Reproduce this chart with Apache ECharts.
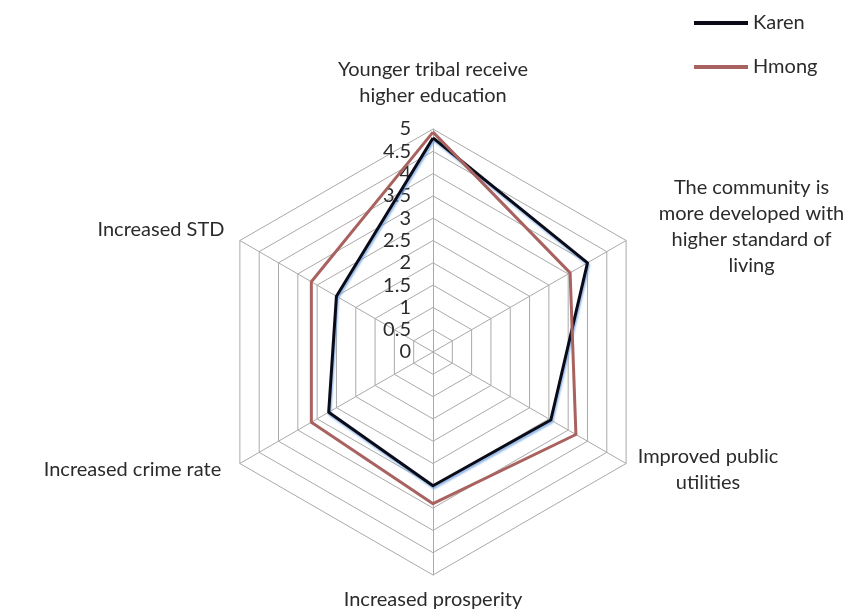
<!DOCTYPE html>
<html>
<head>
<meta charset="utf-8">
<script src="https://cdn.jsdelivr.net/npm/echarts@6/dist/echarts.min.js"></script>
<style>
html,body{margin:0;padding:0;background:#fff;}
#chart{width:858px;height:615px;}
</style>
</head>
<body>
<div id="chart"></div>
<script>
// Categories in clockwise order starting from the top
var categories = [
  'Younger tribal receive\nhigher education',
  'The community is\nmore developed with\nhigher standard of\nliving',
  'Improved public\nutilities',
  'Increased prosperity',
  'Increased crime rate',
  'Increased STD'
];
var seriesNames = ['Karen', 'Hmong'];
var karenValues = [4.8, 4.0, 3.05, 3.0, 2.7, 2.5];
var hmongValues = [4.93, 3.55, 3.7, 3.4, 3.15, 3.15];
var axisMin = 0, axisMax = 5, axisStep = 0.5;

var FONT = 'Lato';
var NAME_SIZE = 20;
var NAME_COLOR = '#2b2b2b';

// per-label nudges (left pad, right pad, trailing spacer height), clockwise order like categories
var namePad = [
  [0, 0, 8],
  [21, 0, 16],
  [0, 0, 0],
  [0, 0, 0],
  [0, 7, 0],
  [0, 4, 10]
];

// ECharts lays radar axes out counter-clockwise; reorder so the result reads clockwise
var order = categories.map(function (c, i) { return i === 0 ? 0 : categories.length - i; });
function reorder(arr) { return order.map(function (k) { return arr[k]; }); }

var ctx = document.createElement('canvas').getContext('2d');
ctx.font = NAME_SIZE + 'px ' + FONT;
var rich = {};
var orderedCats = reorder(categories);
var orderedPad = reorder(namePad);
orderedCats.forEach(function (c, i) {
  var w = 0;
  c.split('\n').forEach(function (l) { w = Math.max(w, ctx.measureText(l).width); });
  var p = orderedPad[i];
  rich['n' + i] = {width: Math.ceil(w) + 2, align: 'center', fontFamily: FONT, fontSize: NAME_SIZE,
    color: NAME_COLOR, lineHeight: 26, padding: [0, p[1], 0, p[0]]};
  rich['s' + i] = {fontSize: 1, lineHeight: p[2], height: p[2]};
});

var indicators = orderedCats.map(function (c, i) {
  var ind = {name: c, min: axisMin, max: axisMax};
  if (i !== 0) ind.axisLabel = {show: false};
  return ind;
});

var chart = echarts.init(document.getElementById('chart'), null, {renderer: 'canvas'});

var option = {
  backgroundColor: '#fff',
  animation: false,
  legend: {
    orient: 'vertical',
    left: 689,
    top: 8,
    itemWidth: 54,
    itemHeight: 4,
    itemGap: 24,
    icon: 'rect',
    textStyle: {fontFamily: FONT, fontSize: 20, color: NAME_COLOR},
    data: seriesNames
  },
  radar: {
    center: [433, 352],
    radius: 223,
    shape: 'polygon',
    splitNumber: Math.round((axisMax - axisMin) / axisStep),
    indicator: indicators,
    nameGap: 12,
    axisName: {
      fontFamily: FONT, fontSize: NAME_SIZE, color: NAME_COLOR, lineHeight: 26,
      rich: rich,
      formatter: function (name) {
        var idx = orderedCats.indexOf(name);
        var out = name.split('\n').map(function (l) { return '{n' + idx + '|' + l + '}'; }).join('\n');
        if (orderedPad[idx][2] > 0) out += '\n{s' + idx + '|\u00a0}';
        return out;
      }
    },
    axisLine: {lineStyle: {color: '#aaaaaa', width: 1}},
    splitLine: {lineStyle: {color: '#aaaaaa', width: 1}},
    splitArea: {show: false},
    axisLabel: {show: true, fontFamily: FONT, fontSize: 20, color: NAME_COLOR, margin: 22}
  },
  series: [{
    type: 'radar',
    symbol: 'none',
    data: [
      {
        name: seriesNames[0],
        value: reorder(karenValues),
        itemStyle: {color: '#0b0b18'},
        lineStyle: {color: '#0b0b18', width: 3, shadowColor: 'rgba(110,160,225,0.8)', shadowBlur: 2, shadowOffsetX: 1, shadowOffsetY: 2}
      },
      {
        name: seriesNames[1],
        value: reorder(hmongValues),
        itemStyle: {color: '#a8625f'},
        lineStyle: {color: '#a8625f', width: 3}
      }
    ]
  }]
};
chart.setOption(option);
</script>
</body>
</html>
